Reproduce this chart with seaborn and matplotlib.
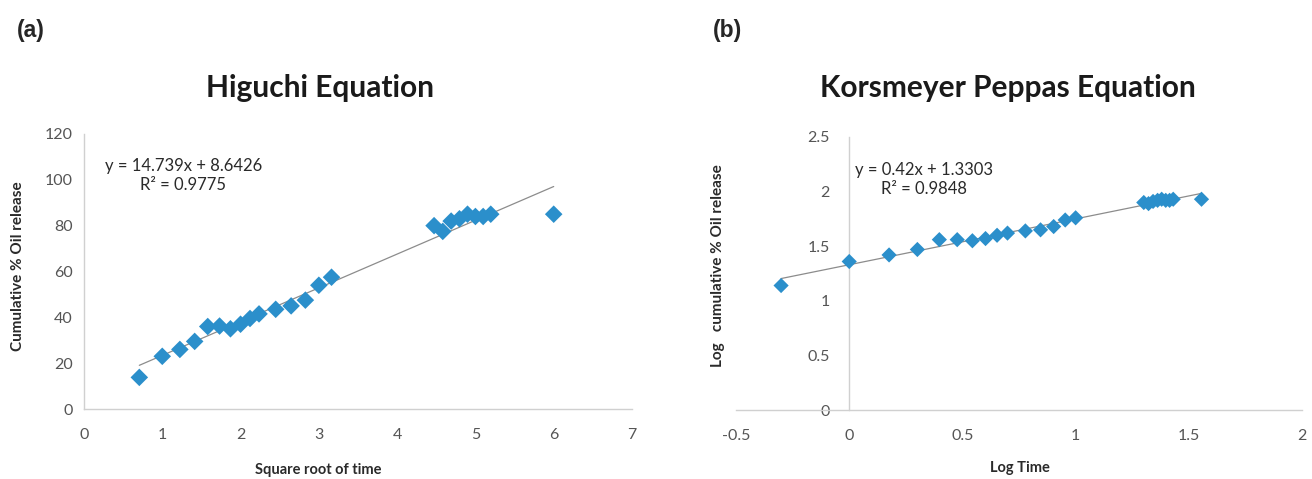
import matplotlib
matplotlib.use("Agg")
import matplotlib.pyplot as plt
import seaborn as sns
import numpy as np
import pandas as pd

# (a) Higuchi: square root of time vs cumulative % oil release
sqrt_time = [0.707, 1.0, 1.225, 1.414, 1.581, 1.732, 1.871, 2.0, 2.121, 2.236,
             2.449, 2.646, 2.828, 3.0, 3.162, 4.472, 4.583, 4.690, 4.796, 4.899,
             5.0, 5.099, 5.196, 6.0]
cum_release = [13.8, 23.0, 26.0, 29.5, 36.0, 36.2, 35.0, 37.0, 39.5, 41.5,
               43.5, 45.0, 47.5, 54.0, 57.5, 80.0, 77.5, 82.0, 83.0, 85.0,
               84.0, 84.0, 85.0, 85.0]
higuchi_slope, higuchi_icpt = 14.739, 8.6426
higuchi_r2 = 0.9775

# (b) Korsmeyer-Peppas: log time vs log cumulative % oil release
log_time = [-0.301, 0.0, 0.176, 0.301, 0.398, 0.477, 0.544, 0.602, 0.653, 0.699,
            0.778, 0.845, 0.903, 0.954, 1.0, 1.301, 1.322, 1.342, 1.362, 1.380,
            1.398, 1.415, 1.431, 1.556]
log_release = [1.14, 1.36, 1.42, 1.47, 1.56, 1.56, 1.55, 1.57, 1.60, 1.62,
               1.64, 1.65, 1.68, 1.74, 1.76, 1.90, 1.89, 1.91, 1.92, 1.93,
               1.92, 1.92, 1.93, 1.93]
kp_slope, kp_icpt = 0.42, 1.3303
kp_r2 = 0.9848

df_a = pd.DataFrame({"x": sqrt_time, "y": cum_release})
df_b = pd.DataFrame({"x": log_time, "y": log_release})

sns.set_style("white")
plt.rcParams["font.family"] = ["Lato", "DejaVu Sans"]

blue = "#2B8FCB"
spine_col = "#D0D0D0"
tick_col = "#555555"
text_col = "#2a2a2a"

fig = plt.figure(figsize=(13.12, 4.79), dpi=100)
ax1 = fig.add_axes([0.064, 0.1461, 0.4177, 0.5742])
ax2 = fig.add_axes([0.561, 0.144, 0.4314, 0.570])

# ---- panel (a)
sns.scatterplot(data=df_a, x="x", y="y", marker="D", s=80, color=blue,
                edgecolor="none", ax=ax1, zorder=3)
xs = np.array([min(sqrt_time), max(sqrt_time)])
ax1.plot(xs, higuchi_slope * xs + higuchi_icpt, color="#8C8C8C", lw=0.9, zorder=2)
ax1.set_xlim(0, 7)
ax1.set_ylim(0, 120)
ax1.set_xticks(range(0, 8))
ax1.set_yticks(range(0, 121, 20))
ax1.text(1.27, 102, f"y = {higuchi_slope}x + {higuchi_icpt}\nR² = {higuchi_r2}",
         ha="center", va="center", fontsize=12, color=text_col, linespacing=1.25)
ax1.set_xlabel("Square root of time", fontsize=10.5, fontweight="bold", color=text_col)
ax1.set_ylabel("Cumulative % Oil release", fontsize=11, fontweight="bold", color=text_col)
ax1.xaxis.set_label_coords(0.427, -0.196)
ax1.yaxis.set_label_coords(-0.108, 0.52)
ax1.tick_params(axis="x", length=0, pad=14, labelsize=11.5, labelcolor=tick_col)
ax1.tick_params(axis="y", length=0, pad=8, labelsize=11.5, labelcolor=tick_col)

# ---- panel (b)
sns.scatterplot(data=df_b, x="x", y="y", marker="D", s=60, color=blue,
                edgecolor="none", ax=ax2, zorder=3)
xs = np.array([min(log_time), max(log_time)])
ax2.plot(xs, kp_slope * xs + kp_icpt, color="#8C8C8C", lw=0.9, zorder=2)
ax2.set_xlim(-0.5, 2)
ax2.set_ylim(0, 2.5)
ax2.set_xticks([-0.5, 0, 0.5, 1, 1.5, 2])
ax2.set_xticklabels(["-0.5", "0", "0.5", "1", "1.5", "2"])
ax2.set_yticks([0, 0.5, 1, 1.5, 2, 2.5])
ax2.set_yticklabels(["0", "0.5", "1", "1.5", "2", "2.5"])
ax2.spines["left"].set_position(("data", 0))
ax2.text(0.33, 2.11, f"y = {kp_slope}x + {kp_icpt}\nR² = {kp_r2}",
         ha="center", va="center", fontsize=12, color=text_col, linespacing=1.25)
ax2.set_xlabel("Log Time", fontsize=10.5, fontweight="bold", color=text_col)
ax2.set_ylabel("Log   cumulative % Oil release", fontsize=11, fontweight="bold", color=text_col)
ax2.xaxis.set_label_coords(0.502, -0.187)
ax2.yaxis.set_label_coords(-0.019, 0.53)
ax2.tick_params(axis="x", length=0, pad=14, labelsize=11.5, labelcolor=tick_col)
ax2.tick_params(axis="y", length=0, pad=14, labelsize=11.5, labelcolor=tick_col)

for ax in (ax1, ax2):
    for side in ("top", "right"):
        ax.spines[side].set_visible(False)
    for side in ("left", "bottom"):
        ax.spines[side].set_color(spine_col)
        ax.spines[side].set_linewidth(1.0)

fig.text(0.244, 0.816, "Higuchi Equation", ha="center", va="center",
         fontsize=21.5, fontweight="bold", color="#1a1a1a")
fig.text(0.768, 0.816, "Korsmeyer Peppas Equation", ha="center", va="center",
         fontsize=21.5, fontweight="bold", color="#1a1a1a")
fig.text(0.013, 0.937, "(a)", ha="left", va="center", fontsize=16.5,
         fontweight="bold", family=["Liberation Sans", "DejaVu Sans"])
fig.text(0.543, 0.937, "(b)", ha="left", va="center", fontsize=16.5,
         fontweight="bold", family=["Liberation Sans", "DejaVu Sans"])

fig.savefig("out.png", dpi=100)
